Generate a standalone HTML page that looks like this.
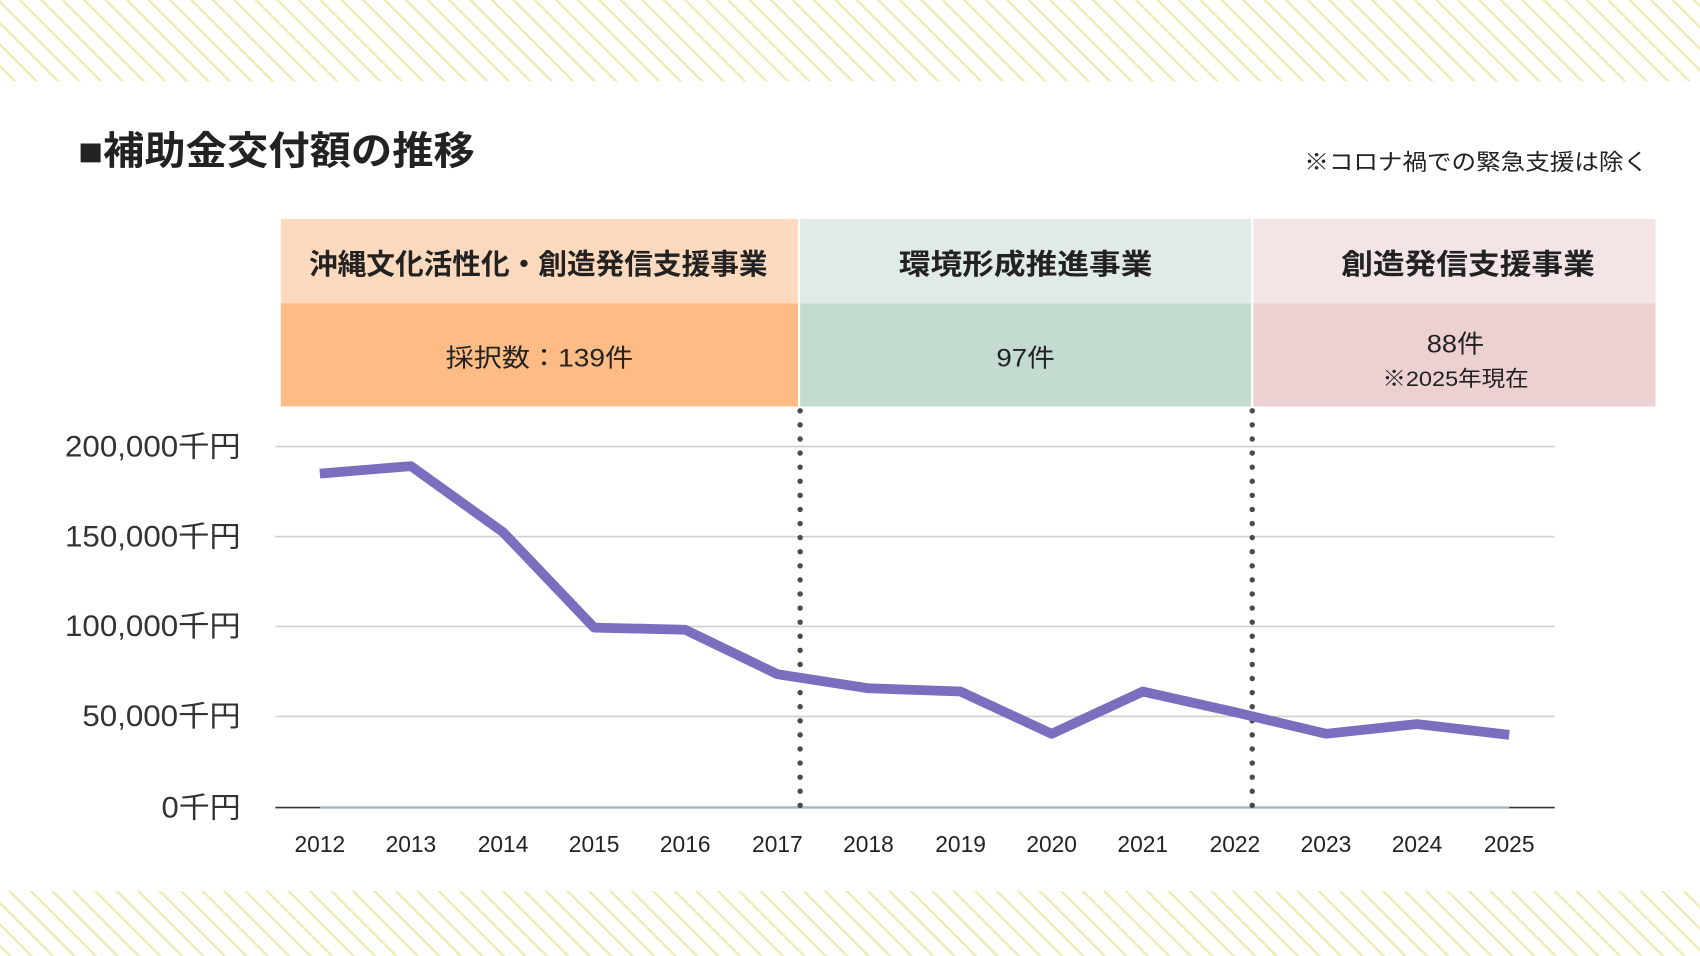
<!DOCTYPE html>
<html><head><meta charset="utf-8"><style>
html,body{margin:0;padding:0;background:#fff;}
svg{display:block;}
text{font-family:"Liberation Sans","Noto Sans CJK JP",sans-serif;}
</style></head><body>
<svg width="1700" height="956" viewBox="0 0 1568 882" preserveAspectRatio="none" xmlns="http://www.w3.org/2000/svg">
<defs>
<pattern id="st" patternUnits="userSpaceOnUse" width="14" height="14" patternTransform="rotate(45)">
<rect width="14" height="14" fill="#fff"/>
<rect x="0" y="0" width="14" height="2.2" fill="#efebb4"/>
</pattern>
</defs>
<rect x="0" y="0" width="1568" height="882" fill="#fff"/>
<rect x="0" y="0" width="1568" height="75" fill="url(#st)"/>
<rect x="0" y="822" width="1568" height="60" fill="url(#st)"/>

<text x="72" y="152" font-size="36" font-weight="bold" fill="#222" textLength="366" lengthAdjust="spacingAndGlyphs">■補助金交付額の推移</text>
<text x="1203" y="157" font-size="21" fill="#222" textLength="317" lengthAdjust="spacingAndGlyphs">※コロナ禍での緊急支援は除く</text>

<rect x="259" y="202" width="477" height="78" fill="#fdd9bd"/>
<rect x="259" y="280" width="477" height="95" fill="#fdbb86"/>
<rect x="738" y="202" width="416" height="78" fill="#e0ebe5"/>
<rect x="738" y="280" width="416" height="95" fill="#c4dccf"/>
<rect x="1156" y="202" width="371" height="78" fill="#f3e4e5"/>
<rect x="1156" y="280" width="371" height="95" fill="#edd1d2"/>
<g font-size="26" font-weight="bold" fill="#222">
<text x="285" y="253" textLength="423" lengthAdjust="spacingAndGlyphs">沖縄文化活性化・創造発信支援事業</text>
<text x="829" y="253" textLength="234" lengthAdjust="spacingAndGlyphs">環境形成推進事業</text>
<text x="1237" y="253" textLength="234" lengthAdjust="spacingAndGlyphs">創造発信支援事業</text>
</g>
<g font-size="23" fill="#222">
<text x="411" y="338" textLength="173" lengthAdjust="spacingAndGlyphs">採択数：139件</text>
<text x="919" y="338" textLength="54" lengthAdjust="spacingAndGlyphs">97件</text>
<text x="1316" y="325" textLength="53" lengthAdjust="spacingAndGlyphs">88件</text>
<text x="1275" y="356" font-size="20" textLength="135" lengthAdjust="spacingAndGlyphs">※2025年現在</text>
</g>

<g stroke="#cfcfcf" stroke-width="1.5">
<line x1="254" y1="412" x2="1434" y2="412"/>
<line x1="254" y1="495" x2="1434" y2="495"/>
<line x1="254" y1="578" x2="1434" y2="578"/>
<line x1="254" y1="661" x2="1434" y2="661"/>
</g>
<line x1="254" y1="745" x2="1434" y2="745" stroke="#333" stroke-width="1.5"/>
<line x1="295" y1="745" x2="1392" y2="745" stroke="#9fb6bd" stroke-width="2"/>
<g font-size="27" fill="#333" text-anchor="end">
<text x="222" y="421" textLength="162" lengthAdjust="spacingAndGlyphs">200,000千円</text>
<text x="222" y="504" textLength="162" lengthAdjust="spacingAndGlyphs">150,000千円</text>
<text x="222" y="587" textLength="162" lengthAdjust="spacingAndGlyphs">100,000千円</text>
<text x="222" y="670" textLength="146" lengthAdjust="spacingAndGlyphs">50,000千円</text>
<text x="222" y="754" textLength="73" lengthAdjust="spacingAndGlyphs">0千円</text>
</g>
<g font-size="21" fill="#222" text-anchor="middle">
<text x="295" y="786">2012</text><text x="379" y="786">2013</text><text x="464" y="786">2014</text><text x="548" y="786">2015</text><text x="632" y="786">2016</text><text x="717" y="786">2017</text><text x="801" y="786">2018</text><text x="886" y="786">2019</text><text x="970" y="786">2020</text><text x="1054" y="786">2021</text><text x="1139" y="786">2022</text><text x="1223" y="786">2023</text><text x="1307" y="786">2024</text><text x="1392" y="786">2025</text>
</g>
<g stroke="#4a4a4a" stroke-width="5" stroke-linecap="round" stroke-dasharray="0 13">
<line x1="738" y1="379" x2="738" y2="752"/>
<line x1="1155" y1="379" x2="1155" y2="752"/>
</g>
<polyline fill="none" stroke="#7b6ebf" stroke-width="9" stroke-linejoin="round"
points="295,437 379,430 464,491 548,579 632,581 717,622 801,635 886,638 970,677 1054,638 1139,657 1223,677 1307,668 1392,678"/>
</svg>
</body></html>
